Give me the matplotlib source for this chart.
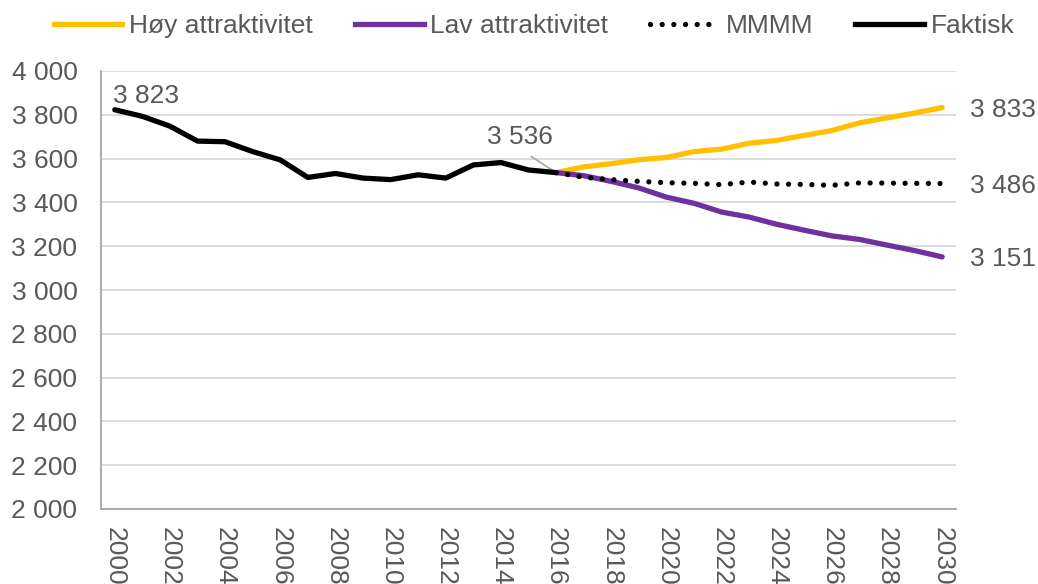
import matplotlib
matplotlib.use("Agg")
import matplotlib.pyplot as plt
from matplotlib.lines import Line2D

plt.rcParams['font.family'] = ['Liberation Sans', 'DejaVu Sans']

years_actual = list(range(2000, 2017))
faktisk = [3823, 3793, 3748, 3680, 3677, 3632, 3594, 3514, 3532, 3511,
           3504, 3526, 3511, 3571, 3582, 3548, 3536]

years_proj = list(range(2016, 2031))
hoy = [3536, 3562, 3577, 3595, 3605, 3632, 3643, 3670, 3683, 3706,
       3728, 3763, 3786, 3808, 3833]
lav = [3536, 3522, 3496, 3466, 3424, 3396, 3356, 3333, 3300, 3273,
       3247, 3231, 3205, 3180, 3151]
mmmm = [3536, 3515, 3504, 3496, 3490, 3487, 3481, 3493, 3484, 3482,
        3478, 3489, 3488, 3487, 3486]

yticks = [2000, 2200, 2400, 2600, 2800, 3000, 3200, 3400, 3600, 3800, 4000]
ytick_labels = ["2 000", "2 200", "2 400", "2 600", "2 800", "3 000",
                "3 200", "3 400", "3 600", "3 800", "4 000"]
xticks = list(range(2000, 2031, 2))

names = ["Høy attraktivitet", "Lav attraktivitet", "MMMM", "Faktisk"]

YELLOW = "#FFC000"
PURPLE = "#7030A0"
TXT = "#595959"
GRID = "#D9D9D9"

fig = plt.figure(figsize=(10.38, 5.84), dpi=100)
ax = fig.add_axes([101/1038, 1 - 509/584, (956 - 101)/1038, (509 - 71)/584])

lw = 3.8
ax.plot(years_proj, hoy, color=YELLOW, lw=lw, solid_capstyle='round', zorder=3)
ax.plot(years_proj, lav, color=PURPLE, lw=lw, solid_capstyle='round', zorder=3)
ax.plot(years_proj, mmmm, color="black", lw=lw, linestyle=(0, (0.01, 2.2)),
        dash_capstyle='round', zorder=4)
ax.plot(years_actual, faktisk, color="black", lw=lw, solid_capstyle='round', zorder=5)

ax.set_xlim(1999.5, 2030.5)
ax.set_ylim(2000, 4000)
ax.set_yticks(yticks)
ax.set_yticklabels(ytick_labels)
ax.set_xticks(xticks)
ax.set_xticklabels([str(x) for x in xticks], rotation=270, va='top', ha='center')

ax.grid(axis='y', color=GRID, lw=1.3)
ax.set_axisbelow(True)
for s in ['top', 'right']:
    ax.spines[s].set_visible(False)
ax.spines['left'].set_color("#A6A6A6")
ax.spines['bottom'].set_color("#A6A6A6")
ax.spines['left'].set_linewidth(1.3)
ax.spines['bottom'].set_linewidth(1.3)
ax.tick_params(axis='y', length=0, pad=17, labelsize=19, labelcolor=TXT)
ax.tick_params(axis='x', length=0, pad=13, labelsize=19, labelcolor=TXT)

fs = 19
# start / end labels
ax.annotate("3 823", xy=(years_actual[0], faktisk[0]), xytext=(-1, 10),
            textcoords='offset points', ha='left', va='center', fontsize=fs, color=TXT)
ax.annotate("3 536", xy=(years_actual[-1], faktisk[-1]), xytext=(2014.69, 3698),
            textcoords='data', ha='center', va='center', fontsize=fs, color=TXT,
            arrowprops=dict(arrowstyle='-', color="#A6A6A6", lw=1.2,
                            relpos=(0.5, 0.0), shrinkA=6, shrinkB=0))
for vals in (hoy, mmmm, lav):
    ax.text(2031.0, vals[-1] - 10, f"{vals[-1]:,}".replace(",", " "), ha='left', va='center',
            fontsize=fs, color=TXT, clip_on=False)

handles = [
    Line2D([], [], color=YELLOW, lw=lw),
    Line2D([], [], color=PURPLE, lw=lw),
    Line2D([], [], color="black", lw=lw, linestyle=(0, (0.01, 2.2)), dash_capstyle='round'),
    Line2D([], [], color="black", lw=lw),
]
leg = fig.legend(handles, names, loc='center', bbox_to_anchor=(534/1038, 1 - 26/584), ncol=4,
                 frameon=False, fontsize=fs, handlelength=2.6, handletextpad=0.25,
                 columnspacing=1.6, borderaxespad=0)
for t in leg.get_texts():
    t.set_color(TXT)

fig.savefig("out.png", dpi=100)
